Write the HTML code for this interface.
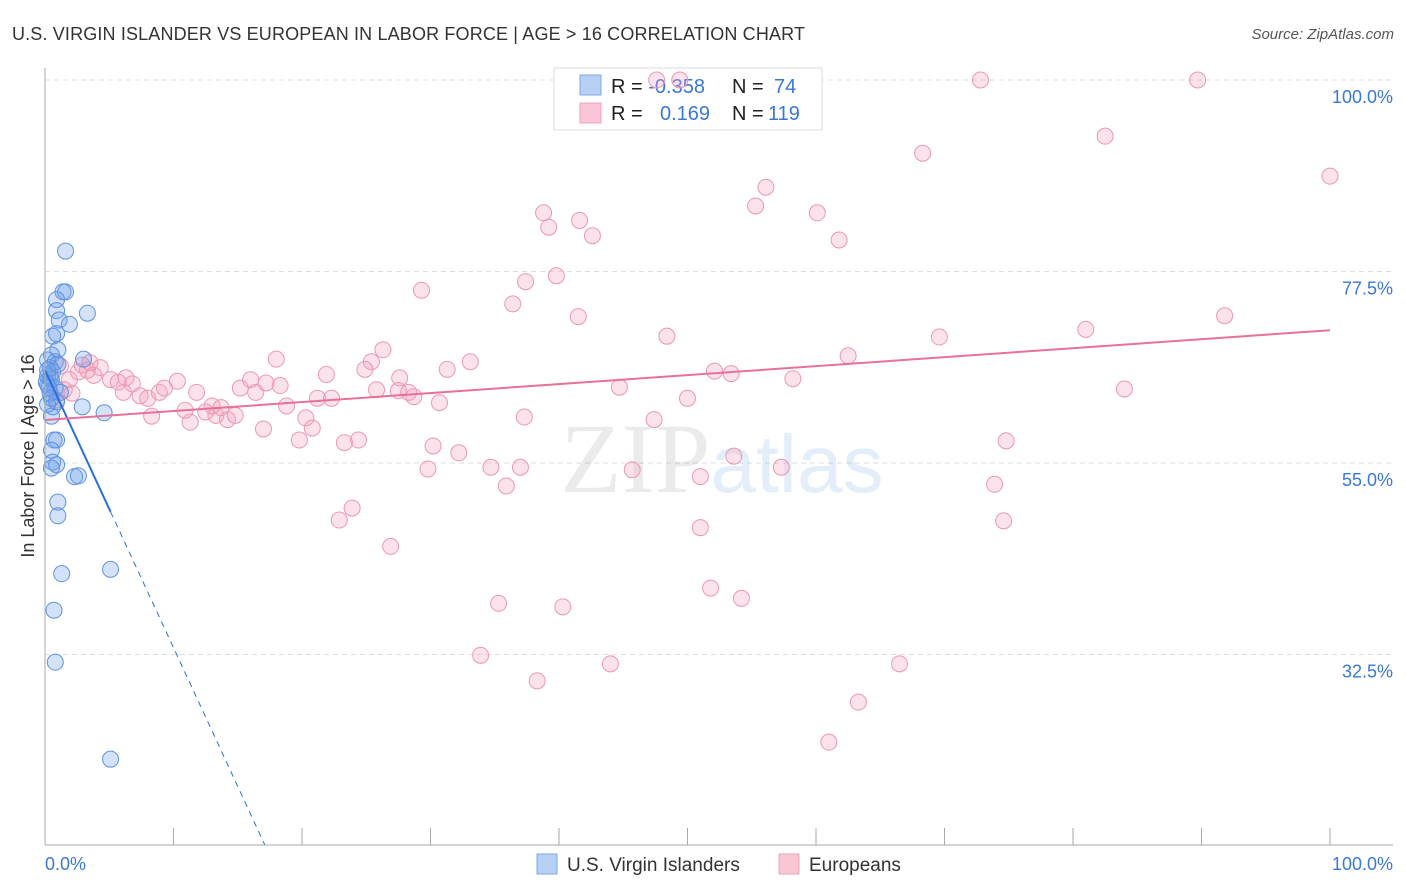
<!DOCTYPE html>
<html><head><meta charset="utf-8">
<style>
body{margin:0;background:#fff;font-family:"Liberation Sans",sans-serif;}
svg{display:block}
</style></head>
<body>
<svg id="chart" width="1406" height="892" xmlns="http://www.w3.org/2000/svg">
<text x="12" y="40" font-size="18" fill="#333" letter-spacing="0.15" font-family="Liberation Sans">U.S. VIRGIN ISLANDER VS EUROPEAN IN LABOR FORCE | AGE &gt; 16 CORRELATION CHART</text>
<text x="1394" y="39" font-size="15" fill="#555" text-anchor="end" font-style="italic">Source: ZipAtlas.com</text>
<g id="grid"></g>
<text x="722" y="492" font-size="100" text-anchor="middle" font-family="Liberation Serif" fill="#000" fill-opacity="0.08">ZIP<tspan fill="#4a8ee0" fill-opacity="0.15" font-family="Liberation Sans" font-size="82">atlas</tspan></text>
<g>
<rect x="554" y="68" width="268" height="62" fill="#fff" stroke="#ddd"/>
<rect x="580" y="75" width="21" height="20" fill="#b7d1f5" stroke="#7fa9e6"/>
<rect x="580" y="103" width="21" height="20" fill="#f9c6d6" stroke="#eea0ba"/>
<text x="611" y="93" font-size="20" fill="#222">R = <tspan fill="#3a78d8">-0.358</tspan><tspan x="732">N = </tspan><tspan x="774" fill="#3a78d8">74</tspan></text>
<text x="611" y="120" font-size="20" fill="#222">R = <tspan x="660" fill="#3a78d8">0.169</tspan><tspan x="732">N = </tspan><tspan x="768" fill="#3a78d8">119</tspan></text>
</g>
<g id="pink"></g>
<g id="blue"></g>
<g id="lines"></g>
<line x1="45" y1="68" x2="45" y2="845" stroke="#aaa" stroke-width="1"/>
<line x1="45" y1="845" x2="1393" y2="845" stroke="#aaa" stroke-width="1"/>
<g id="ticks"></g>
<text transform="translate(34,456) rotate(-90)" font-size="18" fill="#333" text-anchor="middle">In Labor Force | Age &gt; 16</text>
<text x="45" y="870" font-size="18" fill="#3a78d8">0.0%</text>
<text x="1393" y="870" font-size="18" fill="#3a78d8" text-anchor="end">100.0%</text>
<g>
<rect x="537" y="854" width="20" height="20" fill="#b7d1f5" stroke="#7fa9e6"/>
<text x="567" y="871" font-size="19" fill="#333">U.S. Virgin Islanders</text>
<rect x="779" y="854" width="20" height="20" fill="#f9c6d6" stroke="#eea0ba"/>
<text x="809" y="871" font-size="19" fill="#333">Europeans</text>
</g>
</svg>
<script>
const yTicks=[100,77.5,55,32.5];
const yTickLabels=["100.0%","77.5%","55.0%","32.5%"];
const xTicks=[10,20,30,40,50,60,70,80,90,100];
const blueX=[1.6,1.4,1.6,0.9,3.3,0.9,1.1,1.9,0.6,0.9,1.0,3.0,0.5,0.8,0.2,0.4,0.6,1.0,0.2,0.5,0.2,0.8,0.4,1.2,0.9,0.6,2.9,4.6,0.5,0.7,0.9,0.5,0.6,0.9,0.5,2.3,2.6,1.0,1.0,1.3,5.1,0.7,0.8,5.1,0.2,0.4,0.1,0.3,0.5,0.2];
const blueY=[79.9,75.1,75.1,74.2,72.6,72.9,71.8,71.3,69.9,70.2,68.3,67.2,67.7,66.9,67.1,66.2,65.7,66.6,65.2,64.8,64.2,63.8,63.2,63.3,62.2,61.6,61.6,60.9,60.5,57.7,57.7,56.5,55.1,54.8,54.4,53.4,53.5,50.4,48.8,42.0,42.5,37.7,31.6,20.2,65.9,65.0,64.5,63.9,62.6,61.9];
const pinkX=[47.6,49.4,72.8,89.7,82.5,68.3,100,56.1,55.3,60.1,38.8,39.2,41.6,42.6,61.8,39.8,37.4,29.3,36.4,41.5,91.8,81.0,48.4,69.6,26.3,18.0,25.4,33.1,62.5,21.9,24.9,31.3,52.1,53.4,58.2,27.6,25.8,27.5,28.3,28.7,30.7,44.7,50.0,84.0,21.2,22.3,18.8,20.3,20.8,19.8,23.3,24.4,17.0,37.3,47.4,30.2,32.2,29.8,34.7,37.0,35.9,45.7,51.0,53.6,57.3,74.8,73.9,74.6,51.0,23.9,22.9,26.9,51.8,54.2,35.3,40.3,33.9,44.0,38.3,66.5,63.3,61.0,1.2,1.9,2.6,3.3,4.3,5.1,5.7,6.3,6.8,7.4,8.3,8.0,8.9,9.3,10.3,10.9,11.3,11.8,12.5,13.0,13.3,13.7,14.2,14.8,15.2,16.0,16.4,17.2,18.3,1.5,2.9,3.8,0.9,2.1,3.5,6.1];
const pinkY=[100,100,100,100,93.4,91.4,88.7,87.4,85.2,84.4,84.4,82.7,83.5,81.7,81.2,77.0,76.3,75.3,73.7,72.2,72.3,70.7,69.9,69.8,68.3,67.2,66.9,66.9,67.6,65.4,66.0,66.0,65.8,65.5,64.9,65.0,63.6,63.5,63.3,62.8,62.1,63.9,62.6,63.7,62.6,62.6,61.7,60.3,59.1,57.7,57.4,57.7,59.0,60.4,60.1,57.0,56.2,54.3,54.5,54.5,52.3,54.2,53.4,55.8,54.5,57.6,52.5,48.2,47.4,49.7,48.3,45.2,40.3,39.1,38.5,38.1,32.4,31.4,29.4,31.4,26.9,22.2,66.4,64.8,65.7,65.9,66.2,64.8,64.5,65.0,64.3,62.9,60.5,62.6,63.3,63.8,64.6,61.2,59.8,63.3,61.0,61.7,60.6,61.5,60.1,60.6,63.8,64.8,63.3,64.4,64.1,63.6,66.5,65.3,62.4,63.2,66.8,63.3];
const blueTrend=[65.9,-3.26];
const pinkTrend=[60.05,0.1055];
const NS="http://www.w3.org/2000/svg";
const sx=v=>45+v*12.85;
const sy=v=>80+(100-v)*8.511;
function mk(t,a,p){const e=document.createElementNS(NS,t);for(const k in a)e.setAttribute(k,a[k]);p.appendChild(e);return e;}
const grid=document.getElementById('grid');
yTicks.forEach((t,i)=>{
 const l=mk('line',{x1:45,x2:1393,y1:sy(t),y2:sy(t),stroke:'#ddd','stroke-dasharray':'5,4'},grid);
 
 
 const tx=mk('text',{x:1393,y:sy(t)+23,'font-size':18,fill:'#3a78d8','text-anchor':'end'},grid);
 tx.textContent=yTickLabels[i];
 
 
});
const ticks=document.getElementById('ticks');
xTicks.forEach(t=>{
 const l=mk('line',{x1:sx(t),x2:sx(t),y1:828,y2:845,stroke:'#aaa'},ticks);
 
 
});
const pg=document.getElementById('pink');
pinkX.forEach((x,i)=>{
 const c=mk('circle',{cx:sx(x),cy:sy(pinkY[i]),r:8,fill:'rgba(244,160,190,0.3)',stroke:'#eb98b5','stroke-width':1},pg);
 
 
});
const bg=document.getElementById('blue');
blueX.forEach((x,i)=>{
 const c=mk('circle',{cx:sx(x),cy:sy(blueY[i]),r:8,fill:'rgba(110,160,235,0.3)',stroke:'#5f93e0','stroke-width':1},bg);
 
 
});
const lg=document.getElementById('lines');
const bf=x=>blueTrend[0]+blueTrend[1]*x;
const pf=x=>pinkTrend[0]+pinkTrend[1]*x;
let l1=mk('line',{x1:sx(0),y1:sy(bf(0)),x2:sx(5.1),y2:sy(bf(5.1)),stroke:'#2a6fd6','stroke-width':2},lg);


const xEnd=(blueTrend[0]-10.1)/(-blueTrend[1]);
let l2=mk('line',{x1:sx(5.1),y1:sy(bf(5.1)),x2:sx(xEnd),y2:sy(bf(xEnd)),stroke:'#2a6fd6','stroke-width':1,'stroke-dasharray':'6,5'},lg);


let l3=mk('line',{x1:sx(0),y1:sy(pf(0)),x2:sx(100),y2:sy(pf(100)),stroke:'#e8709a','stroke-width':2},lg);


</script>
</body></html>
